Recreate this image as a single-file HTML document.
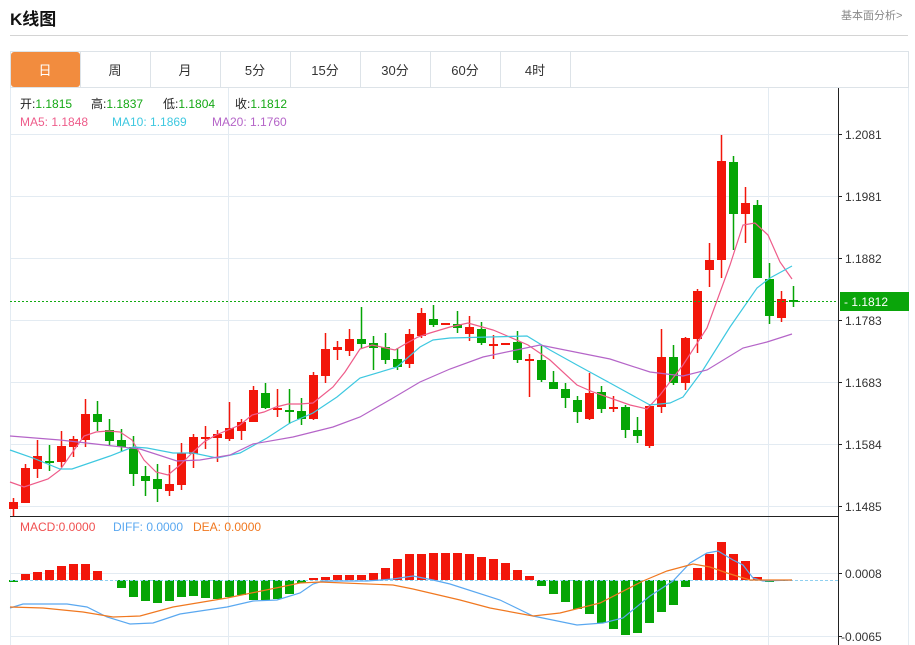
<!DOCTYPE html>
<html><head><meta charset="utf-8"><style>
body{margin:0;width:915px;height:645px;overflow:hidden;background:#fff;font-family:"Liberation Sans","Noto Sans CJK SC",sans-serif;}
.t{position:absolute;white-space:nowrap}
</style></head><body>
<div class="t" style="left:10px;top:5px;font-size:17px;font-weight:bold;color:#111">K线图</div>
<div class="t" style="left:841px;top:7px;font-size:11px;color:#888">基本面分析&gt;</div>
<div style="position:absolute;left:10px;top:35px;width:898px;height:1px;background:#d4d4d4"></div>
<svg width="915" height="645" style="position:absolute;left:0;top:0" id="s" xmlns="http://www.w3.org/2000/svg" font-family="Liberation Sans, Noto Sans CJK SC, sans-serif">
<rect x="10.5" y="51.5" width="898" height="36" fill="#fff" stroke="#dde3e8"/>
<rect x="11" y="52" width="69" height="35" rx="3" fill="#f28c3e"/>
<g stroke="#dde3e8"><line x1="80.5" y1="52" x2="80.5" y2="87"/><line x1="150.5" y1="52" x2="150.5" y2="87"/><line x1="220.5" y1="52" x2="220.5" y2="87"/><line x1="290.5" y1="52" x2="290.5" y2="87"/><line x1="360.5" y1="52" x2="360.5" y2="87"/><line x1="430.5" y1="52" x2="430.5" y2="87"/><line x1="500.5" y1="52" x2="500.5" y2="87"/><line x1="570.5" y1="52" x2="570.5" y2="87"/></g>
<g font-size="13" text-anchor="middle" fill="#333"><text x="45" y="75" fill="#fff">日</text><text x="115" y="75">周</text><text x="185" y="75">月</text><text x="255" y="75">5分</text><text x="325" y="75">15分</text><text x="395" y="75">30分</text><text x="465" y="75">60分</text><text x="535" y="75">4时</text></g>
<g stroke="#e3ebf2"><line x1="10" y1="134.5" x2="838" y2="134.5"/><line x1="10" y1="196.5" x2="838" y2="196.5"/><line x1="10" y1="258.5" x2="838" y2="258.5"/><line x1="10" y1="320.5" x2="838" y2="320.5"/><line x1="10" y1="382.5" x2="838" y2="382.5"/><line x1="10" y1="444.5" x2="838" y2="444.5"/><line x1="10" y1="506.5" x2="838" y2="506.5"/><line x1="10" y1="573.5" x2="838" y2="573.5"/><line x1="10" y1="636.5" x2="838" y2="636.5"/><line x1="228.5" y1="88" x2="228.5" y2="645"/><line x1="768.5" y1="88" x2="768.5" y2="645"/><line x1="10.5" y1="88" x2="10.5" y2="645"/><line x1="908.5" y1="88" x2="908.5" y2="645"/></g>
<line x1="838.5" y1="88" x2="838.5" y2="645" stroke="#222"/>
<line x1="10" y1="516.5" x2="838" y2="516.5" stroke="#222"/>
<g font-size="12" fill="#333"><text x="845" y="139">1.2081</text><text x="845" y="201">1.1981</text><text x="845" y="263">1.1882</text><text x="845" y="325">1.1783</text><text x="845" y="387">1.1683</text><text x="845" y="449">1.1584</text><text x="845" y="511">1.1485</text><text x="845" y="578">0.0008</text><text x="841" y="641">-0.0065</text></g>
<g stroke="#222"><line x1="838" y1="134.5" x2="842" y2="134.5"/><line x1="838" y1="196.5" x2="842" y2="196.5"/><line x1="838" y1="258.5" x2="842" y2="258.5"/><line x1="838" y1="320.5" x2="842" y2="320.5"/><line x1="838" y1="382.5" x2="842" y2="382.5"/><line x1="838" y1="444.5" x2="842" y2="444.5"/><line x1="838" y1="506.5" x2="842" y2="506.5"/><line x1="838" y1="573.5" x2="842" y2="573.5"/><line x1="838" y1="636.5" x2="842" y2="636.5"/></g>
<g id="c"></g>
<line x1="10" y1="580.5" x2="838" y2="580.5" stroke="#8fd0f0" stroke-dasharray="3,2"/>
<polyline fill="none" stroke="#ee5c8a" stroke-width="1.2" points="10,482 24,487 48,479 60,470 84,436 96,432 108,431 120,432 132,440 144,460 156,472 168,475 180,465 192,453 204,442 216,435 228,430 240,425 252,415 264,412 276,407 288,404 300,404 313,403 333,387 345,372 360,349 372,345 395,350 407,343 418,337 430,333 450,327 468,323 493,330 505,335 528,345 550,360 577,385 593,392 630,405 647,409 660,395 683,365 707,328 730,265 743,225 755,223 768,235 780,262 792,279"/>
<polyline fill="none" stroke="#3ec8e0" stroke-width="1.2" points="10,450 33,458 60,469 72,469 110,456 133,447 147,448 173,453 193,453 217,458 240,453 267,438 290,423 313,413 337,397 360,378 397,367 420,347 433,340 450,338 527,336 550,350 577,365 610,383 650,405 670,403 683,397 703,370 730,327 757,288 770,278 792,266"/>
<polyline fill="none" stroke="#b565c8" stroke-width="1.2" points="10,436 60,440 113,446 140,449 177,461 200,460 230,455 253,444 293,437 333,427 360,417 393,398 420,382 450,369 483,357 540,345 610,359 650,372 683,376 707,370 743,348 767,342 792,334"/>
<polyline fill="none" stroke="#5aa8f0" stroke-width="1.2" points="10,608 23,604 67,604 87,607 107,617 130,624 153,623 180,614 227,607 253,601 277,600 300,593 313,584 323,581 367,581 393,579 413,576 433,580 450,584 500,600 533,616 577,625 603,623 623,618 650,596 673,581 690,563 707,553 718,551 733,560 743,565 753,578 763,581 792,580"/>
<polyline fill="none" stroke="#f07820" stroke-width="1.2" points="10,607 43,608 83,612 113,617 140,616 173,607 227,598 300,583 320,582 393,585 413,589 460,600 490,608 533,616 560,613 600,603 643,581 667,571 693,564 710,567 727,573 750,580 792,580"/>
<line x1="10" y1="301.5" x2="838" y2="301.5" stroke="#11aa11" stroke-dasharray="2,2"/>
<rect x="840" y="292" width="69" height="19" fill="#0aa50a"/>
<text x="844" y="306" font-size="12" fill="#fff">- 1.1812</text>
<g font-size="12"><text x="20" y="108" fill="#222">开:<tspan fill="#15a815">1.1815</tspan></text><text x="91" y="108" fill="#222">高:<tspan fill="#15a815">1.1837</tspan></text><text x="163" y="108" fill="#222">低:<tspan fill="#15a815">1.1804</tspan></text><text x="235" y="108" fill="#222">收:<tspan fill="#15a815">1.1812</tspan></text>
<text x="20" y="126" fill="#ee5c8a">MA5: 1.1848</text><text x="112" y="126" fill="#3ec8e0">MA10: 1.1869</text><text x="212" y="126" fill="#b565c8">MA20: 1.1760</text>
<text x="20" y="531" fill="#f05050">MACD:0.0000</text><text x="113" y="531" fill="#5aa8f0">DIFF: 0.0000</text><text x="193" y="531" fill="#f07820">DEA: 0.0000</text></g>
</svg>
<script>
var K=[[1,502,509,498,516],[1,468,503,464,503],[1,456,469,440,478],[0,461,462,445,471],[1,446,462,431,467],[1,439,447,436,457],[1,414,440,399,447],[0,414,422,401,431],[0,430,441,419,446],[0,440,447,429,452],[0,447,474,436,486],[0,476,481,466,496],[0,479,489,464,502],[1,484,491,465,496],[1,453,485,443,490],[1,437,454,434,468],[1,437,439,426,449],[1,434,438,430,462],[1,428,439,402,441],[1,422,431,419,440],[1,390,422,386,422],[0,393,408,383,409],[1,408,409,389,417],[0,410,412,389,424],[0,411,419,398,425],[1,375,419,372,420],[1,349,376,333,383],[1,347,350,341,360],[1,339,351,329,356],[0,339,344,307,349],[0,343,348,336,370],[0,347,360,333,364],[0,359,367,348,370],[1,334,364,329,368],[1,313,336,308,338],[0,319,325,305,327],[1,323,325,323,325],[0,324,328,311,333],[1,327,334,316,341],[0,329,343,322,345],[1,344,346,335,359],[1,343,345,343,345],[0,342,360,331,363],[1,359,361,354,397],[0,360,380,346,382],[0,382,389,371,389],[0,389,398,383,408],[0,400,412,396,423],[1,393,419,373,420],[0,392,409,386,413],[1,407,409,396,412],[0,407,430,405,438],[0,430,436,417,443],[1,406,446,404,448],[1,357,407,329,413],[0,357,383,345,385],[1,338,383,337,390],[1,291,339,289,353],[1,260,270,243,287],[1,161,260,135,278],[0,162,214,156,250],[1,203,214,187,243],[0,205,278,200,278],[0,279,316,263,324],[1,299,318,291,322],[0,300,302,286,307]];
var M=[582,574,572,570,566,564,564,571,580,588,597,601,603,601,597,596,598,599,597,595,600,600,599,594,583,578,577,575,575,575,573,568,559,554,554,553,553,553,554,557,559,563,570,576,586,594,602,609,614,623,629,635,633,623,612,605,587,568,554,542,554,561,577,582,581,580];
var h='';
for(var i=0;i<K.length;i++){var k=K[i],x=13+12*i,c=k[0]?'#f2160a':'#05a505';
h+='<line x1="'+(x+.5)+'" y1="'+k[3]+'" x2="'+(x+.5)+'" y2="'+k[4]+'" stroke="'+c+'" stroke-width="1.5"/>';
h+='<rect x="'+(x-4)+'" y="'+k[1]+'" width="9" height="'+Math.max(2,k[2]-k[1])+'" fill="'+c+'"/>';
var m=M[i],red=m<580,t=red?m:580,hh=Math.abs(m-580);if(i==0){red=false;t=580;hh=2;}
if(hh>0.5)h+='<rect x="'+(x-4)+'" y="'+t+'" width="9" height="'+hh+'" fill="'+(red?'#f2160a':'#05a505')+'"/>';}
document.getElementById('c').innerHTML=h;
</script>
</body></html>
